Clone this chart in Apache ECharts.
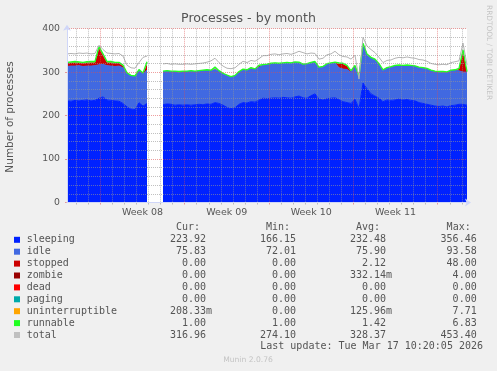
<!DOCTYPE html>
<html><head><meta charset="utf-8">
<script src="https://cdn.jsdelivr.net/npm/echarts@6/dist/echarts.min.js"></script>
<style>html,body{margin:0;padding:0;background:#f0f0f0;}#c{width:497px;height:371px;}</style>
</head><body><div id="c"></div><script>
// ---- data (one sample every 8 hours) ----
const SAMPLE_DAYS = 8 / 24;
const sleeping = [234,233,235,234,235,236,234,235,240,243, 236,235,234,233,228,220,215,214,230,222,
  228,null,null,null,225,227,226,224,225,224, 225,224,225,226,225,227,226,230,228,224,
  219,216,218,226,230,229,232,231,236,240, 239,240,241,240,242,241,240,243,245,241,
  240,246,250,238,236,239,240,241,237,232, 230,228,238,216,275,262,250,245,240,232,
  236,235,236,238,236,237,235,234,230,228, 226,224,222,221,222,220,223,224,226,226, 224];
const idle = [79,81,79,81,78,78,80,80,77,75, 79,79,79,81,82,77,76,76,74,74,
  77,null,null,null,76,75,75,77,75,77, 76,78,76,76,78,77,77,76,74,72,
  73,72,73,74,75,75,75,75,75,76, 78,79,79,79,78,80,80,79,76,76,
  78,75,73,72,76,79,80,80,73,75, 76,72,76,73,90,78,82,83,78,72,
  73,76,78,77,78,78,79,79,80,81, 81,79,79,79,78,79,80,80,77,74, 76];
const stopped = [7,7,8,6,7,7,8,7,38,20, 7,8,7,6,4,0,0,0,0,0,
  14,null,null,null,0,0,0,0,0,0, 0,0,0,0,0,0,0,0,0,0,
  0,0,0,0,0,0,2,0,3,0, 0,0,0,0,0,0,0,0,0,0,
  0,0,0,0,0,0,0,0,10,12, 8,2,0,0,0,0,0,0,0,0,
  0,0,0,0,0,0,0,0,0,0, 0,0,0,0,0,0,0,0,4,48, 0];
const zombie = [1,1,1,1,1,1,1,1,2,2, 1,1,1,1,1,0,0,0,0,0,
  0,null,null,null,0,0,0,0,0,0, 0,0,0,0,0,0,0,0,0,0,
  0,0,0,0,0,0,0,0,0,0, 0,0,0,0,0,0,0,0,0,0,
  0,0,0,0,0,0,0,0,0,0, 0,0,0,0,0,0,0,0,0,0,
  0,0,0,0,0,0,0,0,0,0, 0,0,0,0,0,0,0,0,0,0, 0];
const dead = [0,0,0,0,0,0,0,0,0,0, 0,0,0,0,0,0,0,0,0,0,
  0,null,null,null,0,0,0,0,0,0, 0,0,0,0,0,0,0,0,0,0,
  0,0,0,0,0,0,0,0,0,0, 0,0,0,0,0,0,0,0,0,0,
  0,0,0,0,0,0,0,0,0,0, 0,0,0,0,0,0,0,0,0,0,
  0,0,0,0,0,0,0,0,0,0, 0,0,0,0,0,0,0,0,0,0, 0];
const paging = dead.slice();
const uninterruptible = [0,0,0,0,0,0,0,0,0,0, 0,0,0,0,0,0,0,0,0,0,
  3,null,null,null,0,0,0,0,0,0, 0,0,0,0,0,0,0,3,0,0,
  0,0,0,0,0,0,0,0,0,0, 0,0,0,0,0,0,0,0,0,0,
  0,0,0,0,0,0,0,0,0,0, 0,0,0,0,0,0,0,0,0,0,
  0,0,0,0,0,0,0,0,0,0, 0,0,0,0,0,0,0,0,0,2, 0];
const runnable = [1.5,1.5,1.5,1.5,1.5,2,1.5,1.5,2,2, 1.5,1.5,1.5,1.5,1.5,1.5,1.5,1.5,2,2,
  2,null,null,null,1.5,1.5,1.5,1.5,1.5,1.5, 1.5,1.5,1.5,1.5,1.5,1.5,1.5,3,1.5,1.5,
  1.5,1.5,1.5,1.5,2,1.5,1.5,1.5,2,1.5, 1.5,1.5,1.5,1.5,1.5,1.5,1.5,1.5,2,1.5,
  1.5,1.5,1.5,1.5,1.5,1.5,1.5,2,1.5,1.5, 1.5,1.5,1.5,1.5,1.5,1.5,2,2,1.5,1.5,
  1.5,1.5,1.5,1.5,1.5,1.5,1.5,1.5,1.5,1.5, 1.5,1.5,1.5,1.5,1.5,1.5,1.5,1.5,1.5,1.5, 1];
const total = [342,343,342,344,343,344,342,343,362,352, 344,343,342,343,337,316,310,309,322,334,
  337,null,null,null,319,320,318,319,318,318, 319,318,319,320,321,323,326,332,322,314,
  309,308,310,318,325,322,327,325,331,338, 338,341,342,340,342,343,341,344,348,345,
  342,344,343,330,332,340,342,348,340,336, 335,330,339,284,380,360,352,345,334,322,
  327,328,332,334,333,335,333,332,329,328, 325,320,318,317,318,317,322,324,326,367, 317];

const seriesNames = ['sleeping','idle','stopped','zombie','dead','paging','uninterruptible','runnable','total'];
const curVals = ['223.92','75.83','0.00','0.00','0.00','0.00','208.33m','1.00','316.96'];
const minVals = ['166.15','72.01','0.00','0.00','0.00','0.00','0.00','1.00','274.10'];
const avgVals = ['232.48','75.90','2.12','332.14m','0.00','0.00','125.96m','1.42','328.37'];
const maxVals = ['356.46','93.58','48.00','4.00','0.00','0.00','7.71','6.83','453.40'];
const colHeaders = ['Cur:','Min:','Avg:','Max:'];
const weekLabels = ['Week 08','Week 09','Week 10','Week 11'];
const yTicks = [0,100,200,300,400];
const titleText = 'Processes - by month';
const yAxisTitle = 'Number of processes';
const lastUpdate = 'Last update: Tue Mar 17 10:20:05 2026';
const versionText = 'Munin 2.0.76';
const vendorText = 'RRDTOOL / TOBI OETIKER';

// ---- styling ----
const colors = ['#0022ff','#4169e1','#cc0000','#990000','#ff0000','#00aaaa','#ffa500','#22ff22','#b4b4b4'];
const legendColors = ['#0022ff','#4169e1','#cc0000','#990000','#ff0000','#00aaaa','#ffa500','#22ff22','#c0c0c0'];
const FONT = 'DejaVu Sans', MONO = 'DejaVu Sans Mono', TXT = '#555';
const GRIDC = 'rgba(150,150,150,0.6)', MGRIDC = 'rgba(222,79,79,0.55)', AXISC = '#CFD6F8';

const stackVals = [sleeping, idle, stopped, zombie, dead, paging, uninterruptible, runnable];
const times = sleeping.map((_, i) => (i * SAMPLE_DAYS).toFixed(3));
const XMAX = (sleeping.length - 1) * SAMPLE_DAYS;

// week grid: week boundaries (red) and day lines (grey), in days from the left edge
const WEEK0 = 2.775, WEEK_LEN = 7.03;
const majorTicks = [], minorTicks = [];
for (let k = -7; k < 60; k++) {
  const d = WEEK0 + k * WEEK_LEN / 7;
  if (d < 0.01 || d > XMAX) continue;
  if (((k % 7) + 7) % 7 === 0) majorTicks.push(d); else minorTicks.push(d);
}
const labelTicks = weekLabels.map((_, i) => WEEK0 + i * WEEK_LEN + WEEK_LEN / 2);

const chart = echarts.init(document.getElementById('c'), null, {renderer: 'canvas', width: 497, height: 371});

const series = stackVals.map((vals, k) => ({
  name: seriesNames[k], type: 'line', stack: 'procs', data: vals, symbol: 'none',
  xAxisIndex: 0, silent: true, animation: false, z: 2,
  areaStyle: {color: colors[k], opacity: 1},
  lineStyle: {width: k < 2 ? 1 : (k === 7 ? 1.3 : 0), color: colors[k]}
}));
series.push({
  name: 'total', type: 'line', data: total, symbol: 'none', xAxisIndex: 0, silent: true, animation: false, z: 3,
  lineStyle: {width: 1, color: colors[8]}
});

// ---- graphic texts / legend ----
const ROW0 = 239.8, ROW_H = 11.9;
const colEdges = [206, 296, 386, 476.7];
const cols = [curVals, minVals, avgVals, maxVals];
const g = [];
function txt(text, x, y, font, fill, align, vAlign, rotation) {
  g.push({type: 'text', x, y, rotation: rotation || 0, silent: true,
    style: {text, font, fill, align, textAlign: align, verticalAlign: vAlign, textVerticalAlign: vAlign}});
}
txt(titleText, 248.5, 19, '12.6px ' + FONT, TXT, 'center', 'middle');
txt(yAxisTitle, 10, 117, '10.5px ' + FONT, TXT, 'center', 'middle', Math.PI / 2);
txt(vendorText, 488.5, 5, '7.4px ' + FONT, '#c4c4c4', 'left', 'middle', -Math.PI / 2);
colHeaders.forEach((h, c) => txt(h, colEdges[c] - 6, 227.3, '10px ' + MONO, TXT, 'right', 'middle'));
seriesNames.forEach((name, k) => {
  const y = ROW0 + k * ROW_H;
  g.push({type: 'rect', silent: true, shape: {x: 14, y: y - 3, width: 6, height: 6}, style: {fill: legendColors[k]}});
  txt(name, 26.7, y, '10px ' + MONO, TXT, 'left', 'middle');
  cols.forEach((col, c) => {
    const v = col[k];
    const hasM = v.endsWith('m');
    txt(hasM ? v.slice(0, -1) : v, colEdges[c], y, '10px ' + MONO, TXT, 'right', 'middle');
    if (hasM) txt('m', colEdges[c], y, '10px ' + MONO, TXT, 'left', 'middle');
  });
});
txt(lastUpdate, 483, ROW0 + 9 * ROW_H, '10px ' + MONO, TXT, 'right', 'middle');
txt(versionText, 248, 360, '7.6px ' + FONT, '#c4c4c4', 'center', 'middle');

chart.setOption({
  backgroundColor: '#f0f0f0',
  animation: false,
  grid: {left: 67, top: 28.7, right: 30, bottom: 168.5, show: true, backgroundColor: '#ffffff', borderWidth: 0},
  xAxis: [{
    type: 'category', data: times, boundaryGap: false, position: 'bottom', zlevel: 1, z: 7,
    axisLine: {onZero: false, lineStyle: {color: AXISC, width: 1}, symbol: ['none', 'arrow'], symbolSize: [6, 6], symbolOffset: [0, 4]},
    axisTick: {show: false}, axisLabel: {show: false}, splitLine: {show: false}
  }, {
    type: 'value', min: 0, max: XMAX, position: 'bottom', zlevel: 1, z: 5,
    axisLine: {show: false, onZero: false},
    axisTick: {show: true, customValues: minorTicks, length: 2, lineStyle: {color: GRIDC}},
    splitLine: {show: true, lineStyle: {color: GRIDC, type: [1, 1], width: 1}},
    axisLabel: {customValues: labelTicks, color: TXT, fontFamily: FONT, fontSize: 9.5, margin: 5,
      formatter: v => weekLabels[labelTicks.findIndex(t => Math.abs(t - v) < 0.01)] || ''}
  }, {
    type: 'value', min: 0, max: XMAX, position: 'bottom', zlevel: 1, z: 6,
    axisLine: {show: false, onZero: false},
    axisTick: {show: true, customValues: majorTicks, length: 2, lineStyle: {color: MGRIDC}},
    splitLine: {show: true, lineStyle: {color: MGRIDC, type: [1, 1], width: 1}},
    axisLabel: {show: false}
  }],
  yAxis: {
    type: 'value', min: yTicks[0], max: yTicks[yTicks.length - 1], interval: yTicks[1] - yTicks[0], zlevel: 1, z: 5,
    axisLine: {show: true, lineStyle: {color: AXISC, width: 1}, symbol: ['none', 'arrow'], symbolSize: [6, 6], symbolOffset: [0, 4]},
    axisTick: {show: true, length: 2, lineStyle: {color: MGRIDC}},
    axisLabel: {color: TXT, fontFamily: FONT, fontSize: 9.3, margin: 7},
    splitLine: {show: true, lineStyle: {color: MGRIDC, type: [1, 1], width: 1}},
    minorTick: {show: false, splitNumber: 5},
    minorSplitLine: {show: true, lineStyle: {color: GRIDC, type: [1, 1], width: 1}}
  },
  series,
  graphic: g
});
</script></body></html>
